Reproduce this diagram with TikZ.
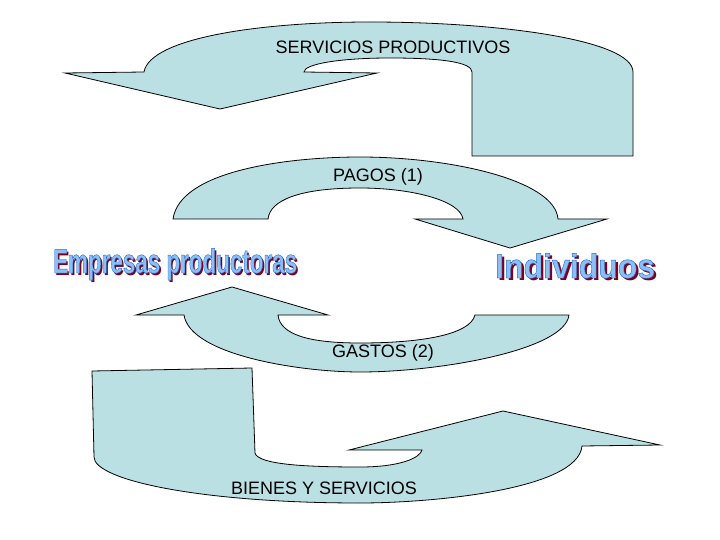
\documentclass[tikz,border=0pt]{standalone}
\usepackage{fontspec}
\usepackage{graphicx}
\setmainfont{Liberation Sans}
\usetikzlibrary{positioning}
\definecolor{flowcyan}{RGB}{187,224,228}
\definecolor{wafill}{RGB}{140,192,245}
\definecolor{washadow}{RGB}{125,0,30}

\newcommand{\wordart}[2]{%
  \resizebox{#1}{\height}{%
    \makebox[0pt][l]{\hspace{2.6pt}\raisebox{-2pt}{\color{washadow}#2}}%
    {\color{wafill}\special{pdf:literal 0.12 0.42 0.82 RG 2 Tr 0.45 w}#2\special{pdf:literal 0 Tr}}}}

\begin{document}
\begin{tikzpicture}[x=1pt, y=-1pt,
    blockarrow/.style={draw, fill=flowcyan, line width=0.8pt, line join=miter},
    lbl/.style={inner sep=0, font=\fontsize{18}{20}\selectfont},
    wa/.style={inner sep=0, anchor=base west, font=\fontsize{34}{36}\selectfont\bfseries}
]
\useasboundingbox (0,0) rectangle (720,540);

\draw[blockarrow] (65,73) -- (144,72)
  .. controls (150,38) and (260,22) .. (370,22)
  .. controls (500,22) and (633,40) .. (633,72)
  -- (633,156) -- (472,156) -- (472,72)
  .. controls (472,62) and (440,58) .. (390,58)
  .. controls (340,58) and (304,64) .. (304,72)
  -- (377,73) -- (220,109) -- cycle;

\draw[blockarrow] (173,219)
  .. controls (180,170) and (290,157) .. (360,157)
  .. controls (450,157) and (555,180) .. (558,219)
  -- (607,219) -- (510,248) -- (415,219) -- (463,219)
  .. controls (460,200) and (410,188) .. (360,188)
  .. controls (300,188) and (270,200) .. (268,219) -- cycle;

\draw[blockarrow] (232,287) -- (136,315) -- (184,315)
  .. controls (190,355) and (300,372) .. (360,372)
  .. controls (440,372) and (565,350) .. (569,315)
  -- (475,315)
  .. controls (470,335) and (420,343) .. (360,343)
  .. controls (310,343) and (280,335) .. (278,315)
  -- (328,315) -- cycle;

\draw[blockarrow] (92,371) -- (252,368) -- (255,453)
  .. controls (258,465) and (310,467) .. (360,467)
  .. controls (400,467) and (420,458) .. (422,450)
  -- (349,450) -- (503,411) -- (660,445) -- (582,446)
  .. controls (578,490) and (430,503) .. (360,503)
  .. controls (200,503) and (94,480) .. (94,457) -- cycle;

\node[lbl] (servicios) at (393,47) {SERVICIOS PRODUCTIVOS};
\node[lbl] (pagos) at (378,177) {PAGOS (1)};
\node[lbl] (gastos) at (383,353) {GASTOS (2)};
\node[lbl] (bienes) at (324,488) {BIENES Y SERVICIOS};

\node[wa] (empresas) at (53,273) {\wordart{244pt}{Empresas productoras}};
\node[wa] (individuos) at (495,278) {\wordart{160pt}{Individuos}};
\end{tikzpicture}
\end{document}
